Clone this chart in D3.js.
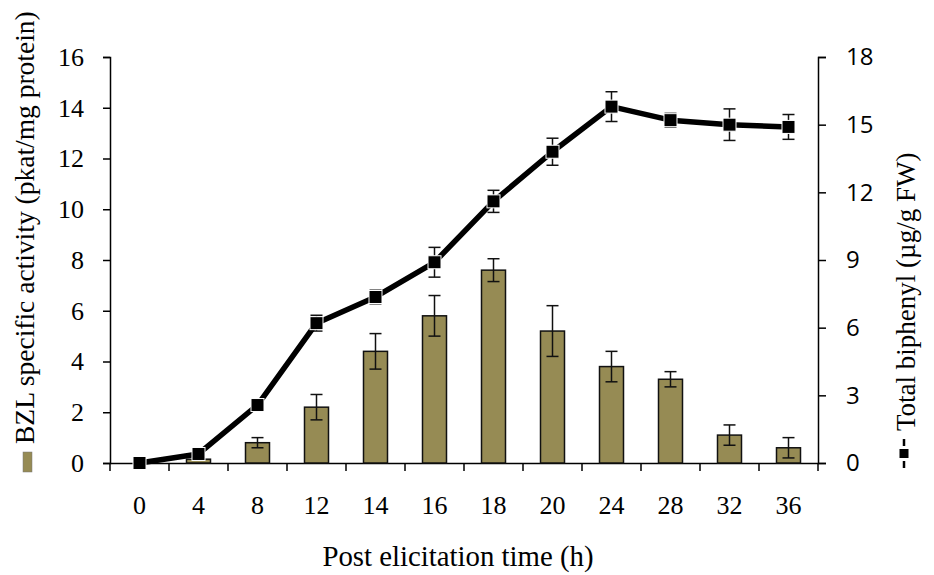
<!DOCTYPE html>
<html><head><meta charset="utf-8">
<script src="https://cdn.jsdelivr.net/npm/d3@7"></script>
<style>body{margin:0;background:#fff}</style>
</head><body>
<svg id="c" width="934" height="575"></svg>
<script>
const categories = ["0","4","8","12","14","16","18","20","24","28","32","36"];
const bzlActivity = [0, 0.15, 0.8, 2.2, 4.4, 5.8, 7.6, 5.2, 3.8, 3.3, 1.1, 0.6];
const bzlError    = [0, 0, 0.2, 0.5, 0.7, 0.8, 0.45, 1.0, 0.6, 0.3, 0.4, 0.4];
const biphenyl    = [0, 0.4, 2.57, 6.2, 7.36, 8.9, 11.6, 13.8, 15.8, 15.2, 15.0, 14.9];
const biphenylErr = [0, 0, 0.1, 0.35, 0.3, 0.66, 0.49, 0.6, 0.66, 0.3, 0.7, 0.55];
const leftTicks = [0,2,4,6,8,10,12,14,16];
const rightTicks = [0,3,6,9,12,15,18];

const svg = d3.select("#c");
const L = 110, R = 818, T = 57, B = 463;
const x = d3.scaleBand().domain(categories).range([L, R]);
const yL = d3.scaleLinear().domain([0,16]).range([B, T]);
const yR = d3.scaleLinear().domain([0,18]).range([B, T]);
const serif = "'Liberation Serif','Times New Roman',serif";
const sans = "'Open Sans','Liberation Sans',sans-serif";
const barW = 24;
const barColor = "#968b54";

// axes
const gL = svg.append("g").attr("transform",`translate(${L},0)`)
  .call(d3.axisLeft(yL).tickValues(leftTicks).tickSize(7).tickPadding(19).tickFormat(d3.format("d")));
gL.selectAll("text").attr("font-family", serif).attr("font-size", 26).attr("fill","#000");
const gR = svg.append("g").attr("transform",`translate(${R},0)`)
  .call(d3.axisRight(yR).tickValues(rightTicks).tickSize(8).tickPadding(20).tickFormat(d3.format("d")));
gR.selectAll("text").attr("font-family", sans).attr("font-size", 24).attr("fill","#000");
const gB = svg.append("g").attr("transform",`translate(0,${B})`)
  .call(d3.axisBottom(x).tickSize(0).tickPadding(33));
gB.selectAll("text").attr("font-family", serif).attr("font-size", 26).attr("fill","#000");
// boundary ticks on x axis
const bounds = categories.map(c => x(c)).concat([R]);
svg.append("g").selectAll("line").data(bounds).join("line")
  .attr("x1", d=>d).attr("x2", d=>d).attr("y1", B).attr("y2", B+8)
  .attr("stroke","#000").attr("stroke-width",1.5);
svg.selectAll(".domain").attr("stroke","#000").attr("stroke-width",1.5);
svg.selectAll(".tick line").attr("stroke","#000").attr("stroke-width",1.5);

// bars
const cx = c => x(c) + x.bandwidth()/2;
svg.append("g").selectAll("rect").data(categories).join("rect")
  .attr("x", c => cx(c) - barW/2)
  .attr("y", (c,i) => yL(bzlActivity[i]))
  .attr("width", barW)
  .attr("height", (c,i) => B - yL(bzlActivity[i]))
  .attr("fill", barColor).attr("stroke","#111").attr("stroke-width",1.5)
  .attr("display", (c,i)=> bzlActivity[i] > 0 ? null : "none");
// bar error bars
const eb = svg.append("g").attr("stroke","#111").attr("stroke-width",1.5);
categories.forEach((c,i) => {
  if (!bzlError[i]) return;
  const xc = cx(c), y1 = yL(bzlActivity[i]-bzlError[i]), y2 = yL(bzlActivity[i]+bzlError[i]);
  eb.append("line").attr("x1",xc).attr("x2",xc).attr("y1",y1).attr("y2",y2);
  eb.append("line").attr("x1",xc-6).attr("x2",xc+6).attr("y1",y1).attr("y2",y1);
  eb.append("line").attr("x1",xc-6).attr("x2",xc+6).attr("y1",y2).attr("y2",y2);
});

// line error bars
const le = svg.append("g").attr("stroke","#111").attr("stroke-width",1.5);
categories.forEach((c,i) => {
  if (!biphenylErr[i]) return;
  const xc = cx(c), y1 = yR(biphenyl[i]-biphenylErr[i]), y2 = yR(biphenyl[i]+biphenylErr[i]);
  le.append("line").attr("x1",xc).attr("x2",xc).attr("y1",y1).attr("y2",y2);
  le.append("line").attr("x1",xc-6).attr("x2",xc+6).attr("y1",y1).attr("y2",y1);
  le.append("line").attr("x1",xc-6).attr("x2",xc+6).attr("y1",y2).attr("y2",y2);
});
// line
const line = d3.line().x((d,i)=>cx(categories[i])).y(d=>yR(d));
svg.append("path").datum(biphenyl).attr("d", line)
  .attr("fill","none").attr("stroke","#000").attr("stroke-width",5.5).attr("stroke-linejoin","round");
// markers
const ms = 13;
svg.append("g").selectAll("rect").data(biphenyl).join("rect")
  .attr("x",(d,i)=>cx(categories[i])-ms/2).attr("y",d=>yR(d)-ms/2)
  .attr("width",ms).attr("height",ms)
  .attr("fill","#000").attr("stroke","#fff").attr("stroke-width",1);

// titles
svg.append("text").attr("transform","translate(34,444) rotate(-90)")
  .attr("text-anchor","start").attr("font-family",serif).attr("font-size",27.5)
  .text("BZL specific activity (pkat/mg protein)");
svg.append("rect").attr("x",23).attr("y",452).attr("width",9).attr("height",20)
  .attr("fill",barColor).attr("stroke","#777").attr("stroke-width",0.5);

const rt = svg.append("g").attr("transform","translate(915,468) rotate(-90)");
rt.append("line").attr("x1",0).attr("x2",7).attr("y1",-11).attr("y2",-11).attr("stroke","#000").attr("stroke-width",2.5);
rt.append("line").attr("x1",22).attr("x2",29).attr("y1",-11).attr("y2",-11).attr("stroke","#000").attr("stroke-width",2.5);
rt.append("rect").attr("x",10).attr("y",-15.5).attr("width",9).attr("height",9).attr("fill","#000");
rt.append("text").attr("x",37).attr("y",0).attr("font-family",serif).attr("font-size",27)
  .text("Total biphenyl (µg/g FW)");

svg.append("text").attr("x",458).attr("y",566).attr("text-anchor","middle")
  .attr("font-family",serif).attr("font-size",28.8).text("Post elicitation time (h)");
</script>
</body></html>
